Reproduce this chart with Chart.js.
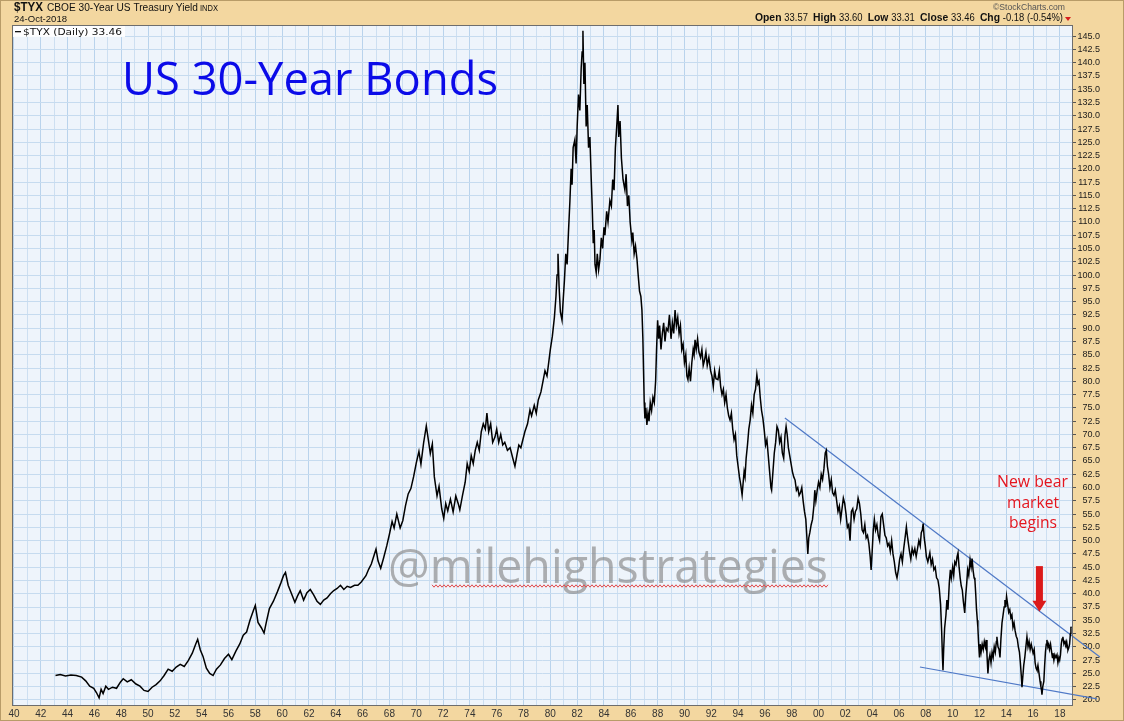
<!DOCTYPE html>
<html>
<head>
<meta charset="utf-8">
<title>$TYX 30-Year Treasury Yield</title>
<script src="https://cdn.jsdelivr.net/npm/chart.js@4.4.0/dist/chart.umd.min.js"></script>
<style>
  html, body { margin: 0; padding: 0; background: #f3d7a0; }
  canvas { display: block; }
</style>
</head>
<body>
<canvas id="chart" width="1124" height="721"></canvas>
<script>
// $TYX daily close (yield x 10), by decade blocks
const years = [
  1943.1, 1943.45, 1943.85, 1944.25, 1944.65, 1945.05, 1945.35, 1945.65, 1945.95, 1946.15, 1946.35, 1946.5, 1946.65, 1946.85, 1947.05, 1947.35, 1947.65, 1947.95, 1948.15, 1948.45, 1948.75,
  1949.1, 1949.4, 1949.7, 1950.0, 1950.3, 1950.6, 1950.9, 1951.2, 1951.5, 1951.8, 1952.1, 1952.4, 1952.7, 1953.0, 1953.3, 1953.55, 1953.7, 1953.9, 1954.1, 1954.35, 1954.6, 1954.85, 1955.1, 1955.4, 1955.7, 1956.0,
  1956.25, 1956.55, 1956.85, 1957.1, 1957.35, 1957.6, 1957.85, 1958.0, 1958.2, 1958.45, 1958.65, 1958.85, 1959.05, 1959.35, 1959.65, 1959.9, 1960.1, 1960.25, 1960.45, 1960.7, 1960.95, 1961.15, 1961.35, 1961.6, 1961.85, 1962.1, 1962.35, 1962.6, 1962.85, 1963.1, 1963.35, 1963.6, 1963.85, 1964.1, 1964.35, 1964.6, 1964.85, 1965.1, 1965.4, 1965.65, 1965.9,
  1966.25, 1966.45, 1966.65, 1966.85, 1967.0, 1967.15, 1967.35, 1967.55, 1967.8, 1968.0, 1968.2, 1968.35, 1968.55, 1968.8, 1969.0, 1969.2, 1969.4, 1969.6, 1969.8, 1970.0, 1970.2, 1970.35, 1970.55, 1970.75, 1970.9, 1971.05, 1971.2, 1971.35, 1971.55, 1971.7, 1971.9, 1972.05, 1972.2, 1972.35, 1972.55, 1972.75, 1972.95, 1973.15,
  1973.25, 1973.45, 1973.65, 1973.8, 1973.95, 1974.1, 1974.25, 1974.4, 1974.55, 1974.7, 1974.85, 1975.0, 1975.15, 1975.27, 1975.4, 1975.55, 1975.7, 1975.87, 1976.0, 1976.15, 1976.3, 1976.45, 1976.6, 1976.8, 1977.0, 1977.2, 1977.36, 1977.5, 1977.65, 1977.8, 1977.95, 1978.1, 1978.3, 1978.48, 1978.6, 1978.8, 1978.95, 1979.1, 1979.3, 1979.45, 1979.6, 1979.75, 1979.9,
  1980.0, 1980.15, 1980.3, 1980.42, 1980.5, 1980.57, 1980.65, 1980.75, 1980.87, 1980.95, 1981.05, 1981.15, 1981.25, 1981.35, 1981.46, 1981.55, 1981.62, 1981.7, 1981.83, 1981.92, 1982.0, 1982.1, 1982.2, 1982.3, 1982.37, 1982.43, 1982.5, 1982.58, 1982.67, 1982.75, 1982.85, 1982.95, 1983.05, 1983.12, 1983.2, 1983.27, 1983.33, 1983.42, 1983.5, 1983.6, 1983.7, 1983.8, 1983.9, 1984.0, 1984.07, 1984.2, 1984.3, 1984.44, 1984.55, 1984.65, 1984.75, 1984.85, 1984.95, 1985.04, 1985.1, 1985.2, 1985.3, 1985.42, 1985.56, 1985.65, 1985.75, 1985.85, 1985.95, 1986.08, 1986.15, 1986.25, 1986.35, 1986.46, 1986.55, 1986.65, 1986.75, 1986.83, 1986.9, 1986.95,
  1987.0, 1987.05, 1987.12, 1987.2, 1987.28, 1987.36, 1987.45, 1987.55, 1987.65, 1987.75, 1987.85, 1987.92, 1988.0, 1988.08, 1988.15, 1988.25, 1988.35, 1988.45, 1988.55, 1988.65, 1988.77, 1988.88, 1989.0, 1989.1, 1989.2, 1989.3, 1989.4, 1989.5, 1989.6, 1989.7, 1989.8, 1989.9, 1990.0, 1990.1, 1990.18, 1990.26, 1990.35, 1990.45, 1990.55, 1990.65, 1990.72, 1990.79, 1990.88, 1990.98, 1991.08, 1991.2, 1991.3, 1991.4, 1991.5, 1991.6, 1991.7, 1991.82, 1991.95, 1992.05, 1992.15, 1992.25, 1992.35, 1992.5, 1992.6, 1992.7, 1992.8, 1992.9, 1993.0, 1993.1, 1993.2, 1993.3, 1993.4, 1993.5, 1993.6, 1993.7, 1993.8, 1993.9,
  1994.0, 1994.1, 1994.2, 1994.3, 1994.38, 1994.45, 1994.52, 1994.6, 1994.7, 1994.8, 1994.9, 1995.0, 1995.1, 1995.2, 1995.3, 1995.4, 1995.48, 1995.56, 1995.65, 1995.75, 1995.85, 1995.95, 1996.05, 1996.15, 1996.25, 1996.35, 1996.45, 1996.5, 1996.6, 1996.7, 1996.8, 1996.9, 1997.0, 1997.1, 1997.2, 1997.3, 1997.4, 1997.5, 1997.58, 1997.66, 1997.75, 1997.85, 1997.95, 1998.05, 1998.15, 1998.25, 1998.35, 1998.45, 1998.55, 1998.65, 1998.75, 1998.85, 1998.95, 1999.05, 1999.12, 1999.2, 1999.27, 1999.35, 1999.45, 1999.55, 1999.65, 1999.72, 1999.8, 1999.9,
  2000.0, 2000.1, 2000.2, 2000.3, 2000.4, 2000.5, 2000.58, 2000.66, 2000.75, 2000.85, 2000.95, 2001.05, 2001.15, 2001.25, 2001.35, 2001.45, 2001.55, 2001.65, 2001.75, 2001.85, 2001.95, 2002.05, 2002.15, 2002.25, 2002.35, 2002.45, 2002.55, 2002.65, 2002.75, 2002.85, 2002.95, 2003.05, 2003.15, 2003.25, 2003.35, 2003.45, 2003.55, 2003.65, 2003.75, 2003.85, 2003.92, 2004.0, 2004.08, 2004.16, 2004.25, 2004.35, 2004.45, 2004.55, 2004.65, 2004.75, 2004.85, 2004.95, 2005.05, 2005.15, 2005.25, 2005.35, 2005.45, 2005.55, 2005.65, 2005.75, 2005.85, 2005.95, 2006.05, 2006.15, 2006.25, 2006.35, 2006.45, 2006.55, 2006.62, 2006.7, 2006.78, 2006.88, 2006.98, 2007.08, 2007.18, 2007.28, 2007.38, 2007.48, 2007.58, 2007.66, 2007.74, 2007.8, 2007.88, 2007.96,
  2008.04, 2008.15, 2008.3, 2008.4, 2008.5, 2008.6, 2008.7, 2008.8, 2008.9, 2009.0, 2009.1, 2009.18, 2009.24, 2009.28, 2009.33, 2009.4, 2009.5, 2009.57, 2009.65, 2009.75, 2009.83, 2009.9, 2010.0, 2010.08, 2010.16, 2010.25, 2010.33, 2010.4, 2010.48, 2010.56, 2010.64, 2010.72, 2010.8, 2010.9, 2010.97, 2011.05, 2011.12, 2011.2, 2011.3, 2011.38, 2011.45, 2011.52, 2011.6, 2011.66, 2011.72, 2011.78, 2011.84, 2011.88, 2011.93, 2012.0,
  2012.05, 2012.12, 2012.2, 2012.28, 2012.36, 2012.44, 2012.5, 2012.56, 2012.63, 2012.7, 2012.78, 2012.86, 2012.94, 2013.02, 2013.1, 2013.18, 2013.26, 2013.3, 2013.38, 2013.46, 2013.53, 2013.6, 2013.68, 2013.76, 2013.84, 2013.9, 2013.96, 2014.02, 2014.1, 2014.18, 2014.26, 2014.34, 2014.42, 2014.5, 2014.58, 2014.66, 2014.74, 2014.82, 2014.9, 2014.98,
  2015.05, 2015.12, 2015.17, 2015.22, 2015.3, 2015.38, 2015.46, 2015.54, 2015.62, 2015.7, 2015.78, 2015.86, 2015.94, 2016.0, 2016.08, 2016.15, 2016.22, 2016.29, 2016.36, 2016.44, 2016.52, 2016.58, 2016.63, 2016.66, 2016.72, 2016.8, 2016.86, 2016.92, 2016.98, 2017.03,
  2017.1, 2017.16, 2017.22, 2017.3, 2017.38, 2017.44, 2017.48, 2017.55, 2017.62, 2017.7, 2017.78, 2017.85, 2017.92, 2017.98, 2018.04, 2018.1, 2018.16, 2018.22, 2018.3, 2018.38, 2018.44, 2018.5, 2018.56, 2018.6, 2018.66, 2018.72, 2018.78, 2018.82, 2018.84
];
const yields = [
  24.6, 24.8, 24.5, 24.7, 24.6, 24.3, 23.6, 22.6, 22.2, 21.4, 20.4, 22.0, 21.2, 22.6, 22.0, 22.4, 22.2, 23.4, 24.0, 23.4, 23.8,
  23.0, 22.6, 21.8, 21.6, 22.4, 22.9, 23.6, 24.6, 25.8, 25.4, 26.2, 26.7, 26.3, 27.4, 28.8, 30.5, 31.4, 29.4, 28.2, 26.0, 25.0, 24.6, 25.8, 26.6, 27.8, 28.6,
  27.6, 29.2, 30.6, 32.2, 32.8, 35.0, 36.8, 37.8, 34.6, 33.6, 32.6, 35.0, 37.2, 38.6, 40.4, 42.0, 43.4, 44.0, 41.6, 40.0, 38.4, 39.6, 40.6, 38.8, 40.2, 40.8, 39.8, 38.6, 38.0, 38.8, 39.2, 40.0, 40.6, 41.0, 41.6, 40.8, 41.4, 41.2, 41.6, 41.6, 42.2,
  43.4, 44.6, 45.6, 47.2, 48.4, 46.2, 44.8, 46.6, 49.0, 51.2, 53.6, 52.4, 55.0, 52.4, 53.8, 56.6, 58.8, 59.8, 62.0, 64.6, 66.8, 64.4, 68.4, 71.6, 69.0, 66.4, 68.2, 62.0, 58.4, 60.2, 56.0, 54.2, 57.0, 55.6, 57.8, 55.4, 58.4, 56.8,
  55.8, 58.5, 61.0, 64.5, 63.0, 66.0, 64.5, 67.0, 68.5, 67.0, 70.5, 72.0, 71.0, 74.0, 70.5, 72.0, 68.5, 69.5, 71.0, 68.5, 70.0, 68.0, 68.5, 67.0, 67.5, 65.5, 64.0, 66.0, 68.0, 67.5, 69.0, 70.5, 72.0, 74.6, 73.5, 75.5, 74.0, 76.5, 78.0, 80.0, 82.0, 81.0, 84.0,
  86.0, 88.5, 92.0, 96.0, 100.0, 104.0, 98.0, 93.0, 91.5, 95.0, 99.0, 104.0, 102.0, 108.0, 114.0, 120.0, 117.0, 124.0, 125.5, 121.0, 128.0, 134.0, 131.0, 139.0, 142.0, 146.0, 136.0, 140.0, 128.0, 132.0, 124.0, 126.0, 118.0, 113.0, 106.0, 108.5, 102.0, 100.5, 104.0, 101.0, 103.0, 107.0, 105.0, 109.0, 107.5, 112.0, 110.0, 114.0, 113.0, 118.0, 116.0, 124.0, 128.0, 132.0, 126.0, 129.0, 122.0, 118.0, 116.0, 119.0, 113.0, 115.0, 110.0, 106.5, 108.0, 104.0, 105.5, 103.0, 100.0, 97.0, 96.0, 93.4, 88.0, 82.0,
  76.0, 73.0, 75.0, 71.8, 74.0, 72.5, 76.0, 74.5, 77.0, 76.0, 80.0, 86.0, 91.5, 88.0, 90.5, 86.0, 89.0, 91.0, 87.5, 90.0, 89.5, 92.5, 88.0, 91.0, 89.0, 93.4, 90.5, 92.0, 89.0, 90.5, 86.0, 87.0, 83.5, 85.0, 81.0, 80.3, 82.5, 80.0, 83.5, 86.0, 85.0, 87.8, 86.0, 88.0, 85.5, 84.5, 86.0, 83.0, 84.0, 85.5, 83.0, 84.5, 82.0, 81.0, 79.0, 82.0, 80.5, 80.3, 82.0, 79.0, 77.5, 78.5, 76.0, 77.5, 75.0, 73.5, 72.7, 74.0, 71.0, 69.0, 70.0, 66.0,
  64.0, 62.0, 60.5, 58.6, 61.0, 63.0, 62.0, 65.5, 68.0, 71.0, 72.7, 75.5, 74.0, 77.5, 78.5, 81.2, 79.5, 80.0, 77.0, 74.5, 73.0, 70.8, 68.0, 69.0, 66.0, 63.0, 60.0, 59.5, 63.0, 66.5, 68.5, 71.5, 70.8, 68.5, 69.5, 66.5, 65.5, 69.9, 71.5, 70.0, 67.5, 66.0, 64.5, 63.0, 62.0, 61.4, 59.5, 60.0, 58.5, 59.0, 60.0, 57.5, 55.5, 54.0, 51.0, 47.5, 50.5, 51.5, 53.0, 54.0, 56.5, 59.5, 57.5, 59.5,
  61.0, 60.0, 62.5, 61.5, 63.5, 66.5, 67.0, 64.0, 62.5, 60.0, 61.5, 59.0, 58.5, 59.5, 57.5, 55.5, 56.5, 54.0, 56.0, 58.0, 57.0, 55.0, 52.5, 53.0, 50.0, 55.5, 56.0, 54.0, 55.5, 56.0, 58.0, 57.0, 55.0, 52.0, 51.5, 53.0, 50.5, 51.0, 49.5, 47.0, 44.5, 48.0, 52.0, 54.0, 52.0, 53.0, 51.0, 50.0, 54.5, 55.0, 53.0, 51.0, 50.5, 49.0, 49.5, 48.0, 50.0, 47.5, 46.0, 44.0, 43.0, 44.5, 46.5, 47.5, 46.0, 48.5, 50.5, 52.6, 51.0, 49.5, 48.0, 46.5, 48.5, 47.5, 48.5, 47.0, 48.5, 50.0, 49.0, 51.5, 52.0, 53.2, 50.5, 49.0,
  47.0, 46.0, 47.7, 45.5, 46.5, 44.5, 45.0, 43.0, 42.6, 41.0, 38.0, 33.0, 28.0, 25.6, 29.5, 33.5, 36.0, 38.8, 37.0, 42.0, 44.5, 43.0, 45.0, 43.5, 46.0, 45.5, 47.0, 47.7, 45.0, 43.0, 41.5, 40.7, 38.5, 36.4, 39.5, 42.0, 44.5, 43.5, 46.4, 45.0, 46.6, 44.5, 43.0, 42.6, 40.0, 37.0, 35.0, 33.7, 31.0, 28.0,
  30.5, 29.0, 30.5, 29.5, 31.0, 30.0, 31.3, 28.5, 25.0, 27.5, 28.5, 27.0, 29.0, 28.0, 30.0, 29.0, 31.0, 31.9, 30.0, 29.5, 28.0, 31.5, 34.5, 36.0, 37.5, 38.8, 37.5, 39.5, 38.0, 36.5, 37.0, 35.5, 36.0, 33.7, 34.5, 33.0, 32.0, 31.5, 30.0, 29.0,
  27.0, 24.5, 22.4, 24.0, 26.5, 28.0, 30.0, 31.9, 30.0, 31.0, 29.5, 30.5, 29.5, 28.8, 29.5, 27.0, 26.0, 25.6, 26.5, 25.0, 23.5, 22.5, 21.8, 21.0, 22.5, 23.5, 26.5, 29.0, 30.5, 31.3,
  30.0, 30.5, 29.5, 30.5, 29.0, 28.0, 28.8, 27.5, 28.5, 28.0, 28.5, 27.0, 28.0, 27.5, 28.5, 30.5, 31.5, 31.9, 30.5, 31.0, 30.5, 31.0, 30.0, 29.4, 29.8, 30.5, 32.5, 33.8, 33.46
];

// hand-drawn trend lines
const upperTrendYears = [1997.49, 2020.98];
const upperTrendValues = [73.1, 28.1];
const lowerTrendYears = [2007.56, 2020.76];
const lowerTrendValues = [26.2, 20.2];

// red arrow: year, from value, to value
const arrowYear = 2016.47;
const arrowValues = [45.2, 36.6];

const quoteLabels = ['Open', 'High', 'Low', 'Close', 'Chg'];
const quoteValues = ['33.57', '33.60', '33.31', '33.46', '-0.18 (-0.54%)'];
const noteLines = ['New bear', 'market', 'begins'];

const xMin = 1939.93, xMax = 2018.9;
const yMin = 19.05, yMax = 146.9;

function fitText(ctx, text, x, baseline, width, font, center) {
  ctx.font = font;
  const w = ctx.measureText(text).width;
  ctx.save();
  ctx.translate(center ? x - width / 2 : x, baseline);
  ctx.scale(width / w, 1);
  ctx.textAlign = 'left';
  ctx.textBaseline = 'alphabetic';
  ctx.fillText(text, 0, 0);
  ctx.restore();
}

const decor = {
  id: 'decor',
  beforeDraw(chart) {
    const { ctx, chartArea: a } = chart;
    ctx.save();
    ctx.fillStyle = '#f3d7a0';
    ctx.fillRect(0, 0, chart.width, chart.height);
    ctx.fillStyle = '#eef4fb';
    ctx.fillRect(a.left, a.top, a.right - a.left, a.bottom - a.top);
    ctx.restore();
  },
  afterDatasetsDraw(chart) {
    const { ctx, scales } = chart;
    ctx.save();

    // title
    ctx.fillStyle = '#0b0be8';
    fitText(ctx, 'US 30-Year Bonds', 122, 95, 376, '45px "Open Sans"');

    // watermark
    ctx.fillStyle = 'rgba(135,135,135,0.65)';
    fitText(ctx, '@milehighstrategies', 388, 583, 440, '48px "Open Sans"');
    ctx.strokeStyle = '#e24a4a';
    ctx.lineWidth = 1;
    ctx.beginPath();
    for (let x = 432, i = 0; x <= 828; x += 2, i++) {
      const y = 586 + (i % 2 ? 1.2 : -1.2);
      if (i === 0) ctx.moveTo(x, y); else ctx.lineTo(x, y);
    }
    ctx.stroke();

    // annotation text
    ctx.fillStyle = '#e4161f';
    fitText(ctx, noteLines[0], 1032.5, 487, 71, '17px "Open Sans"', true);
    fitText(ctx, noteLines[1], 1033, 508, 52, '17px "Open Sans"', true);
    fitText(ctx, noteLines[2], 1033, 528, 48, '17px "Open Sans"', true);

    // arrow
    const ax = scales.x.getPixelForValue(arrowYear);
    const y0 = scales.y.getPixelForValue(arrowValues[0]);
    const y1 = scales.y.getPixelForValue(arrowValues[1]);
    ctx.fillStyle = '#dc1a1a';
    ctx.fillRect(ax - 3.5, y0, 7, y1 - y0 - 10);
    ctx.beginPath();
    ctx.moveTo(ax - 7, y1 - 11);
    ctx.lineTo(ax + 7, y1 - 11);
    ctx.lineTo(ax, y1);
    ctx.closePath();
    ctx.fill();
    ctx.restore();
  },
  afterDraw(chart) {
    const { ctx, chartArea: a } = chart;
    ctx.save();
    ctx.strokeStyle = '#6d6d6d';
    ctx.lineWidth = 1;
    ctx.strokeRect(a.left - 0.5, a.top - 0.5, a.right - a.left + 1, a.bottom - a.top + 1);
    ctx.strokeStyle = '#b89c68';
    ctx.strokeRect(0.5, 0.5, chart.width - 1, chart.height - 1);

    // legend box
    ctx.fillStyle = 'rgba(255,255,255,0.9)';
    ctx.fillRect(a.left, a.top, 112, 11);
    ctx.fillStyle = '#111';
    ctx.fillRect(15, 31, 6, 1.3);
    fitText(ctx, '$TYX (Daily) 33.46', 23, 35, 99, '9px "DejaVu Sans"');

    // header left
    ctx.fillStyle = '#111';
    fitText(ctx, '$TYX', 14, 11, 29, 'bold 12px "Liberation Sans"');
    fitText(ctx, 'CBOE 30-Year US Treasury Yield', 47, 11, 151, '10px "Liberation Sans"');
    fitText(ctx, 'INDX', 200, 11, 18, '9px "Liberation Sans"');
    fitText(ctx, '24-Oct-2018', 14, 22, 53, '9px "Liberation Sans"');

    // header right
    ctx.fillStyle = '#555';
    fitText(ctx, '\u00A9StockCharts.com', 993, 10, 72, '9.5px "Liberation Sans"');
    const parts = [];
    quoteLabels.forEach((l, i) => {
      parts.push(['bold 11px "Liberation Sans"', l + ' ']);
      parts.push(['10px "Liberation Sans"', quoteValues[i] + (i < quoteLabels.length - 1 ? '  ' : '')]);
    });
    let total = 0;
    parts.forEach(p => { ctx.font = p[0]; total += ctx.measureText(p[1]).width; });
    const k = (1063 - 755) / total;
    ctx.translate(755, 21);
    ctx.scale(k, 1);
    let x = 0;
    parts.forEach(p => {
      ctx.font = p[0];
      ctx.fillStyle = '#111';
      ctx.fillText(p[1], x, 0);
      x += ctx.measureText(p[1]).width;
    });
    ctx.setTransform(1, 0, 0, 1, 0, 0);
    ctx.fillStyle = '#d81e1e';
    ctx.beginPath();
    ctx.moveTo(1065, 17);
    ctx.lineTo(1071, 17);
    ctx.lineTo(1068, 21);
    ctx.closePath();
    ctx.fill();
    ctx.restore();
  }
};

new Chart(document.getElementById('chart'), {
  type: 'line',
  data: {
    datasets: [
      {
        data: years.map((x, i) => ({ x, y: yields[i] })),
        borderColor: '#000',
        borderWidth: 1.5,
        pointRadius: 0,
        tension: 0
      },
      {
        data: upperTrendYears.map((x, i) => ({ x, y: upperTrendValues[i] })),
        borderColor: '#4e78c6',
        borderWidth: 1.2,
        pointRadius: 0,
        clip: false
      },
      {
        data: lowerTrendYears.map((x, i) => ({ x, y: lowerTrendValues[i] })),
        borderColor: '#4e78c6',
        borderWidth: 1.2,
        pointRadius: 0,
        clip: false
      }
    ]
  },
  options: {
    responsive: false,
    animation: false,
    devicePixelRatio: 1,
    events: [],
    layout: { padding: { left: 13, top: 26, right: 24, bottom: 0 } },
    plugins: { legend: { display: false }, tooltip: { enabled: false } },
    scales: {
      x: {
        type: 'linear',
        min: xMin,
        max: xMax,
        afterFit(s) { s.height = 16; },
        border: { display: false },
        grid: {
          drawTicks: false,
          color: ctx => (Math.round(ctx.tick.value) % 2 === 0 ? '#b9d3ec' : '#cddff1')
        },
        ticks: {
          stepSize: 1,
          includeBounds: false,
          maxTicksLimit: 1000,
          autoSkip: false,
          maxRotation: 0,
          padding: 3,
          color: '#333',
          font: { family: 'Liberation Sans', size: 10 },
          callback: v => {
            const yr = Math.round(v);
            return yr % 2 === 0 ? String(yr % 100).padStart(2, '0') : '';
          }
        }
      },
      y: {
        type: 'linear',
        position: 'right',
        min: yMin,
        max: yMax,
        afterFit(s) { s.width = 28; },
        border: { display: false },
        grid: { color: '#c6dbef', tickLength: 4, tickColor: '#555' },
        ticks: {
          stepSize: 2.5,
          includeBounds: false,
          maxTicksLimit: 1000,
          autoSkip: false,
          padding: 2,
          crossAlign: 'far',
          color: '#1a1a1a',
          font: { family: 'Liberation Sans', size: 9 },
          callback: v => v.toFixed(1)
        }
      }
    }
  },
  plugins: [decor]
});
</script>
</body>
</html>
